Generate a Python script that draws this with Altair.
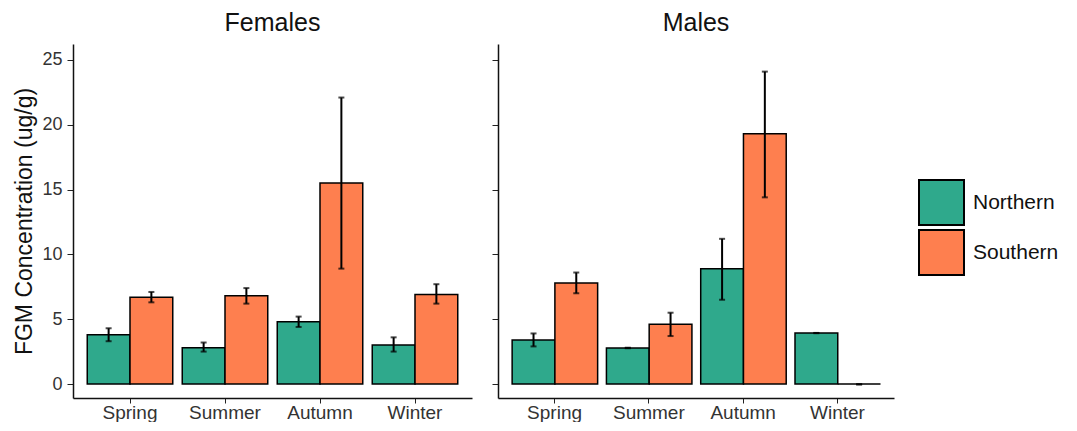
import altair as alt
import pandas as pd

seasons = ["Spring", "Summer", "Autumn", "Winter"]
regions = ["Northern", "Southern"]
sexes = ["Females", "Males"]

female_mean_n = [3.8, 2.8, 4.8, 3.0]
female_lo_n = [3.3, 2.5, 4.4, 2.5]
female_hi_n = [4.3, 3.2, 5.2, 3.6]
female_mean_s = [6.7, 6.8, 15.5, 6.9]
female_lo_s = [6.3, 6.2, 8.9, 6.2]
female_hi_s = [7.1, 7.4, 22.1, 7.7]

male_mean_n = [3.4, 2.78, 8.9, 3.93]
male_lo_n = [2.9, 2.76, 6.5, 3.92]
male_hi_n = [3.9, 2.80, 11.2, 3.94]
male_mean_s = [7.8, 4.6, 19.3, 0.0]
male_lo_s = [7.0, 3.7, 14.4, -0.05]
male_hi_s = [8.6, 5.5, 24.1, 0.0]

rows = []
for sex, sets in [
    ("Females", [("Northern", female_mean_n, female_lo_n, female_hi_n),
                 ("Southern", female_mean_s, female_lo_s, female_hi_s)]),
    ("Males", [("Northern", male_mean_n, male_lo_n, male_hi_n),
               ("Southern", male_mean_s, male_lo_s, male_hi_s)]),
]:
    for region, m, lo, hi in sets:
        for i, s in enumerate(seasons):
            rows.append({"Sex": sex, "Region": region, "Season": s,
                         "Mean": m[i], "Lo": lo[i], "Hi": hi[i]})
df = pd.DataFrame(rows)

FONT = "Liberation Sans"
GREEN = "#2fa98c"
ORANGE = "#fe7f4f"
YDOM = [-1.08, 26.23]


def panel(sex, first, width):
    d = df[df.Sex == sex]
    base = alt.Chart(d).encode(
        x=alt.X("Season:N", sort=seasons,
                scale=alt.Scale(paddingInner=0.1, paddingOuter=0.15),
                axis=alt.Axis(title=None, labelAngle=0, labelFontSize=19,
                              labelColor="#333333", labelPadding=0,
                              tickSize=5, tickColor="#222222",
                              domainColor="#111111", domainWidth=1.5)),
        xOffset=alt.XOffset("Region:N", sort=regions,
                            scale=alt.Scale(paddingInner=0, paddingOuter=0)),
    )
    yaxis = alt.Axis(title="FGM Concentration (ug/g)" if first else None,
                     values=[0, 5, 10, 15, 20, 25], labels=first,
                     labelFontSize=18, labelColor="#333333", labelPadding=5,
                     titleFontSize=23, titleFontWeight="normal",
                     titleColor="#111111", titlePadding=5,
                     tickSize=6, tickColor="#222222",
                     domainColor="#111111", domainWidth=1.5, grid=False)
    bars = base.mark_bar(stroke="black", strokeWidth=1.5).encode(
        y=alt.Y("Mean:Q", scale=alt.Scale(domain=YDOM, nice=False, zero=False),
                axis=yaxis),
        color=alt.Color("Region:N", sort=regions,
                        scale=alt.Scale(domain=regions, range=[GREEN, ORANGE]),
                        legend=alt.Legend(title=None, orient="none",
                                          legendX=845, legendY=135,
                                          symbolType="square", symbolSize=2025,
                                          symbolStrokeColor="black",
                                          symbolStrokeWidth=2,
                                          symbolOpacity=1,
                                          labelFontSize=21, labelFont=FONT,
                                          labelColor="#111111",
                                          rowPadding=-8, labelOffset=8)
                        if first else None),
    )
    rules = base.mark_rule(color="black", strokeWidth=2).encode(
        y="Lo:Q", y2="Hi:Q")
    cap_lo = base.mark_tick(color="black", thickness=2, size=6).encode(y="Lo:Q")
    cap_hi = base.mark_tick(color="black", thickness=2, size=6).encode(y="Hi:Q")
    return alt.layer(bars, rules, cap_lo, cap_hi).properties(
        width=width, height=354, title=sex)


chart = alt.hconcat(panel("Females", True, 399), panel("Males", False, 396),
                    spacing=19).properties(
    padding={"left": 5, "top": 3, "right": 0, "bottom": 0}
).configure_view(stroke=None).configure_title(
    fontSize=25, fontWeight="normal", font=FONT, color="#111111",
    anchor="middle", offset=8
).configure_axis(labelFont=FONT, titleFont=FONT)

chart.save("out.html", embed_options={"renderer": "svg", "actions": False})
